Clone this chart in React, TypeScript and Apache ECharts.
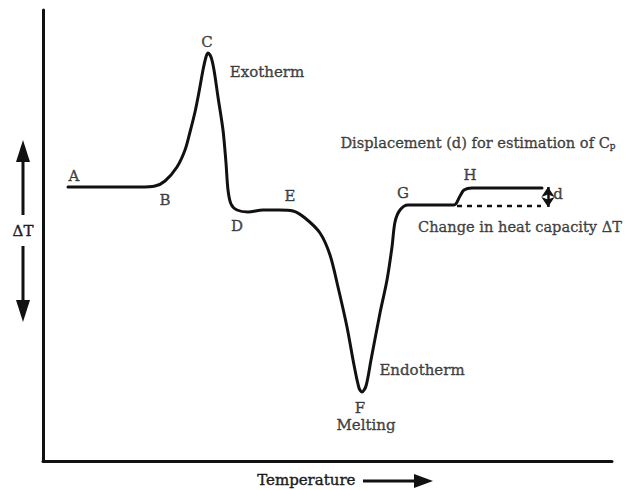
import React, { useEffect, useRef } from "react";
import * as echarts from "echarts";

// Thermogram curve: [temperature, ΔT] (arbitrary units)
const curveT = [25, 60, 97, 112, 122, 134, 142, 147, 152, 156, 160, 163, 165, 168, 171, 175, 180, 183, 185, 188, 194, 205, 220, 236, 250, 262, 277, 287, 295, 304, 311, 316, 319, 323, 328, 337, 344, 349, 352, 357, 365, 382, 411, 417, 421, 429, 460, 499];
const curveDT = [274, 274, 274, 275, 280, 294, 311, 329, 349, 369, 391, 404, 408, 404, 391, 364, 331, 298, 271, 257, 251, 249, 251, 251, 250, 243, 228, 206, 174, 134, 96, 73, 69, 75, 101, 148, 181, 214, 239, 251, 256, 256, 256, 265, 271, 273, 273, 273];

// baseline extrapolation (dashed) and displacement d
const dashT = [414, 498];
const dashDT = [255, 255];
const dispT = 505;
const dispDT = [274, 254];

// annotation labels
const labelNames = ["A", "B", "C", "D", "E", "F", "G", "H", "Exotherm", "Endotherm", "Melting", "d"];
const labelT = [31, 122, 164, 194, 247, 317, 360, 427, 224, 379, 323, 515];
const labelDT = [285, 261, 419, 235, 265, 53, 268, 286, 389, 91, 36, 267];

const titleNote = "Displacement (d) for estimation of C{sub|p}";
const titleNotePos = [435, 319];
const changeNote = "Change in heat capacity ΔT";
const changeNotePos = [477, 235];

const xTitle = "Temperature";
const yTitle = "ΔT";

const FONT = "DejaVu Serif";
const TXT = "#1c1c1c";
const INK = "#111";

export default function App() {
  const ref = useRef<HTMLDivElement>(null);
  useEffect(() => {
    if (!ref.current) return;
    const chart = echarts.init(ref.current, undefined, { renderer: "svg" });
    const curve = curveT.map((t, i) => [t, curveDT[i]]);
    const dash = dashT.map((t, i) => [t, dashDT[i]]);
    const labels = labelNames.map((n, i) => ({ name: n, value: [labelT[i], labelDT[i]] }));
    const thick = { textBorderColor: TXT, textBorderWidth: 0.4 };
    chart.setOption({
      animation: false,
      backgroundColor: "#fff",
      grid: { left: 43, right: 16, top: 10, bottom: 29 },
      xAxis: {
        type: "value",
        min: 0,
        max: 569,
        axisLine: { show: true, onZero: false, lineStyle: { color: INK, width: 3 } },
        axisTick: { show: false },
        axisLabel: { show: false },
        splitLine: { show: false },
      },
      yAxis: {
        type: "value",
        min: 0,
        max: 451,
        axisLine: { show: true, onZero: false, lineStyle: { color: INK, width: 3 } },
        axisTick: { show: false },
        axisLabel: { show: false },
        splitLine: { show: false },
      },
      series: [
        {
          type: "line",
          data: curve,
          smooth: 0.3,
          showSymbol: false,
          lineStyle: { color: INK, width: 3, join: "round", cap: "round" },
          silent: true,
        },
        {
          type: "line",
          data: dash,
          showSymbol: false,
          lineStyle: { color: INK, width: 2.5, type: [5, 5] },
          silent: true,
          markLine: {
            silent: true,
            symbol: ["arrow", "arrow"],
            symbolSize: [10, 10],
            label: { show: false },
            lineStyle: { color: INK, width: 2.5, type: "solid" },
            data: [[{ coord: [dispT, dispDT[0]] }, { coord: [dispT, dispDT[1]] }]],
          },
        },
        {
          type: "scatter",
          data: labels,
          symbolSize: 0,
          silent: true,
          label: {
            show: true,
            position: "inside",
            formatter: "{b}",
            fontFamily: FONT,
            fontSize: 15,
            color: TXT,
            ...thick,
          },
        },
        {
          type: "scatter",
          data: [
            { name: titleNote, value: titleNotePos },
            { name: changeNote, value: changeNotePos },
          ],
          symbolSize: 0,
          silent: true,
          label: {
            show: true,
            position: "inside",
            formatter: "{b}",
            fontFamily: FONT,
            fontSize: 14.6,
            color: TXT,
            ...thick,
            rich: {
              sub: { fontFamily: FONT, fontSize: 9, color: TXT, ...thick, padding: [8, 0, 0, 0] },
            },
          },
        },
      ],
      graphic: [
        // Temperature label and arrow
        { type: "text", left: 257, top: 472, style: { text: xTitle, font: `15px "${FONT}"`, fill: TXT, stroke: TXT, lineWidth: 0.4 } },
        { type: "line", shape: { x1: 363, y1: 481, x2: 416, y2: 481 }, style: { stroke: INK, lineWidth: 3 } },
        { type: "polygon", shape: { points: [[414, 474], [433, 481], [414, 488]] }, style: { fill: INK } },
        // ΔT label and double arrow
        { type: "text", x: 23, y: 231, style: { text: yTitle, font: `15px "${FONT}"`, fill: TXT, stroke: TXT, lineWidth: 0.4, align: "center", verticalAlign: "middle" } },
        { type: "line", shape: { x1: 23, y1: 160, x2: 23, y2: 215 }, style: { stroke: INK, lineWidth: 3 } },
        { type: "polygon", shape: { points: [[16, 162], [23, 140], [30, 162]] }, style: { fill: INK } },
        { type: "line", shape: { x1: 23, y1: 246, x2: 23, y2: 302 }, style: { stroke: INK, lineWidth: 3 } },
        { type: "polygon", shape: { points: [[16, 300], [23, 322], [30, 300]] }, style: { fill: INK } },
      ],
    });
    return () => chart.dispose();
  }, []);
  return <div ref={ref} style={{ width: 628, height: 490, position: "absolute", left: 0, top: 0 }} />;
}
